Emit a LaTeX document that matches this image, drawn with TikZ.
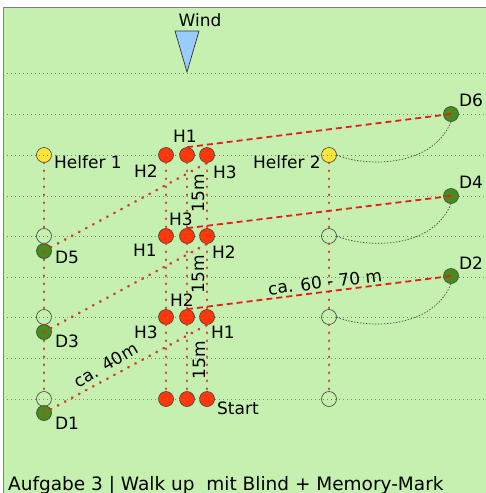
\documentclass[tikz,border=0pt]{standalone}
\usepackage{fontspec}
\setmainfont{DejaVu Sans}
\definecolor{bgg}{RGB}{197,240,176}
\definecolor{rc}{RGB}{255,55,10}
\definecolor{yc}{RGB}{255,228,60}
\definecolor{dg}{RGB}{72,140,30}
\definecolor{wb}{RGB}{153,204,255}
\definecolor{rl}{RGB}{230,30,25}
\definecolor{rd}{RGB}{215,55,45}
\tikzset{
  dot/.style={circle,draw=black!75,line width=0.6pt,minimum size=15pt,inner sep=0pt},
  redc/.style={dot,fill=rc},
  yelc/.style={dot,fill=yc},
  grnc/.style={dot,fill=dg},
  empc/.style={dot,fill=bgg},
  gline/.style={gray,line width=0.8pt,dash pattern=on 0.8pt off 3.2pt},
  rdots/.style={rd,line width=2.9pt,line cap=round,dash pattern=on 0.2pt off 7.8pt},
  rdash/.style={rl,line width=1.8pt,dash pattern=on 6pt off 4pt},
  karc/.style={black!70,line width=0.7pt,dash pattern=on 1.5pt off 1.5pt},
  lbl/.style={font=\fontsize{17}{19}\selectfont,inner sep=0pt,text=black},
}
\begin{document}
\begin{tikzpicture}[x=1pt,y=-1pt]
\useasboundingbox (0,0) rectangle (486,493);
\fill[white] (0,0) rectangle (486,493);
\fill[bgg] (3,7) rectangle (486,493);
\draw[gray,line width=1pt] (3,493) -- (3,7) -- (486,7);

% circles (except drop points)
\node[yelc] (hA) at (44,155) {};
\node[empc] (W1) at (44,236) {};
\node[empc] (W2) at (44,317) {};
\node[empc] (W3) at (44,399) {};
\foreach \r/\y in {1/155,2/236,3/317,4/399}{
  \node[redc] (r\r a) at (166,\y) {};
  \node[redc] (r\r b) at (187,\y) {};
  \node[redc] (r\r c) at (207,\y) {};
}
\node[yelc] (hB) at (329,155) {};
\node[empc] (V1) at (329,236) {};
\node[empc] (V2) at (329,317) {};
\node[empc] (V3) at (329,399) {};

% horizontal dotted lines
\foreach \y in {73,114,155,196,236,277,317,358,399}
  \draw[gline] (3,\y) -- (486,\y);

% drop points
\node[grnc] (D5) at (44,251) {};
\node[grnc] (D3) at (44,332) {};
\node[grnc] (D1) at (44,413) {};
\node[grnc] (D6) at (451,114) {};
\node[grnc] (D4) at (451,196) {};
\node[grnc] (D2) at (451,276) {};

% wind
\draw[black!80,line width=0.7pt,fill=wb] (175,31) -- (199,31) -- (187,72) -- cycle;
\node[lbl] (wind) at (200,20) {Wind};

% red dotted verticals
\draw[rdots] (hA) -- (W1);
\draw[rdots] (W1) -- (W2);
\draw[rdots] (W2) -- (W3);
\draw[rdots] (W3) -- (D1.center);
\foreach \c in {a,b,c}{
  \draw[rdots] (r1\c) -- (r2\c);
  \draw[rdots] (r2\c) -- (r3\c);
  \draw[rdots] (r3\c) -- (r4\c);
}
\draw[rdots] (hB) -- (V1);
\draw[rdots] (V1) -- (V2);
\draw[rdots] (V2) -- (V3);

% red dotted diagonals
\draw[rdots] (D5.center) -- (r1c.south);
\draw[rdots] (D3.center) -- (r2c.south);
\draw[rdots] (D1.center) -- (r3c.south);

% red dashed lines
\draw[rdash] (r1b.north) -- (D6.center);
\draw[rdash] (r2b.north) -- (D4.center);
\draw[rdash] (r3b.north) -- (D2.center);

% black dotted arcs
\draw[karc] (hB.east) .. controls +(25,11) and +(-20,48) .. (D6.south);
\draw[karc] (V1.east) .. controls +(25,11) and +(-20,48) .. (D4.south);
\draw[karc] (V2.east) .. controls +(25,11) and +(-20,48) .. (D2.south);

% labels
\node[lbl,anchor=west] (t1) at (54,162) {Helfer 1};
\node[lbl,anchor=east] (t2) at (321,162) {Helfer 2};
\node[lbl] (l1) at (185,136) {H1};
\node[lbl] (l2) at (146,171) {H2};
\node[lbl] (l3) at (225,172) {H3};
\node[lbl] (l4) at (181,219) {H3};
\node[lbl] (l5) at (145,250) {H1};
\node[lbl] (l6) at (224,252) {H2};
\node[lbl] (l7) at (182,300) {H2};
\node[lbl] (l8) at (146,332) {H3};
\node[lbl] (l9) at (223,332) {H1};
\node[lbl,anchor=west] (st) at (217,408) {Start};
\node[lbl] (d5) at (67,257) {D5};
\node[lbl] (d3) at (67,341) {D3};
\node[lbl] (d1) at (67,423) {D1};
\node[lbl] (d6) at (471,100) {D6};
\node[lbl] (d4) at (471,182) {D4};
\node[lbl] (d2) at (471,263) {D2};
\node[lbl,rotate=90] (m1) at (198,193) {15m};
\node[lbl,rotate=90] (m2) at (198,274) {15m};
\node[lbl,rotate=90] (m3) at (199,360) {15m};
\node[lbl,rotate=30.5] (c40) at (106,365) {ca. 40m};
\node[lbl,rotate=7] (c60) at (325,282) {ca. 60 - 70 m};
\node[lbl,anchor=base west,font=\fontsize{18.5}{20}\selectfont] (title) at (8,490) {Aufgabe 3 | Walk up\ \ mit Blind + Memory-Mark};
\end{tikzpicture}
\end{document}
